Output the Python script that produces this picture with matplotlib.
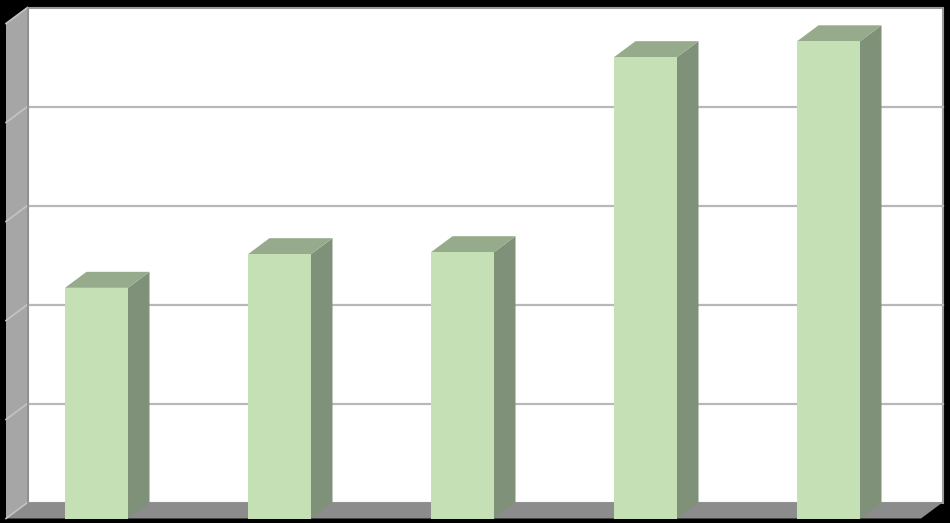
import matplotlib
matplotlib.use("Agg")
import matplotlib.pyplot as plt
from matplotlib.patches import Polygon

# values, one gridline = 1 unit
categories = ["A", "B", "C", "D", "E"]
values = [2.33, 2.67, 2.69, 4.66, 4.82]
grid_levels = [1, 2, 3, 4]
y_max = 5

# 3D look: depth of the box in data units
depth_x = 21.5 / 183
depth_y = 16 / 99
bar_width = 63 / 183

fig = plt.figure(figsize=(9.5, 5.23), dpi=100, facecolor="black")
ax = fig.add_axes([0, 0, 1, 1])
ax.set_xlim(-96.5 / 183, 853.5 / 183)
ax.set_ylim(-4.5 / 99, 518.5 / 99)
ax.axis("off")

left = (6 - 96.5) / 183
right = (921 - 96.5) / 183
top = y_max

# back wall, left wall, floor
ax.add_patch(Polygon([(left + depth_x, depth_y), (right + depth_x, depth_y),
                      (right + depth_x, top + depth_y), (left + depth_x, top + depth_y)],
                     facecolor="white", edgecolor="#999999", lw=1.5, zorder=1))
ax.add_patch(Polygon([(left, 0), (left + depth_x, depth_y),
                      (left + depth_x, top + depth_y), (left, top)],
                     facecolor="#a6a6a6", edgecolor="none", zorder=2))
ax.add_patch(Polygon([(left, 0), (right, 0), (right + depth_x, depth_y),
                      (left + depth_x, depth_y)],
                     facecolor="#8c8c8c", edgecolor="none", zorder=2))

# gridlines on the back wall and running down the left wall
for level in grid_levels:
    ax.plot([left + depth_x, right + depth_x], [level + depth_y, level + depth_y],
            color="#b8b8b8", lw=1.6, zorder=3)
    ax.plot([left, left + depth_x], [level, level + depth_y],
            color="#c4c4c4", lw=1.2, zorder=3)
ax.plot([left, left + depth_x], [0, depth_y], color="#c4c4c4", lw=1.2, zorder=3)
ax.plot([left, left + depth_x], [top, top + depth_y], color="#c4c4c4", lw=1.2, zorder=3)
ax.plot([left + depth_x, left + depth_x], [depth_y, top + depth_y], color="#8f8f8f", lw=1.2, zorder=3)

xs = list(range(len(categories)))
ax.bar(xs, values, width=bar_width, color="#c5e0b4", zorder=6)

for x, v in zip(xs, values):
    x0 = x - bar_width / 2
    x1 = x + bar_width / 2
    ax.add_patch(Polygon([(x1, 0), (x1 + depth_x, depth_y), (x1 + depth_x, v + depth_y), (x1, v)],
                         facecolor="#7f9179", edgecolor="none", zorder=5))
    ax.add_patch(Polygon([(x0, v), (x1, v), (x1 + depth_x, v + depth_y), (x0 + depth_x, v + depth_y)],
                         facecolor="#96ab8c", edgecolor="none", zorder=5))

fig.savefig("out.png", dpi=100, facecolor="black")
plt.close(fig)
